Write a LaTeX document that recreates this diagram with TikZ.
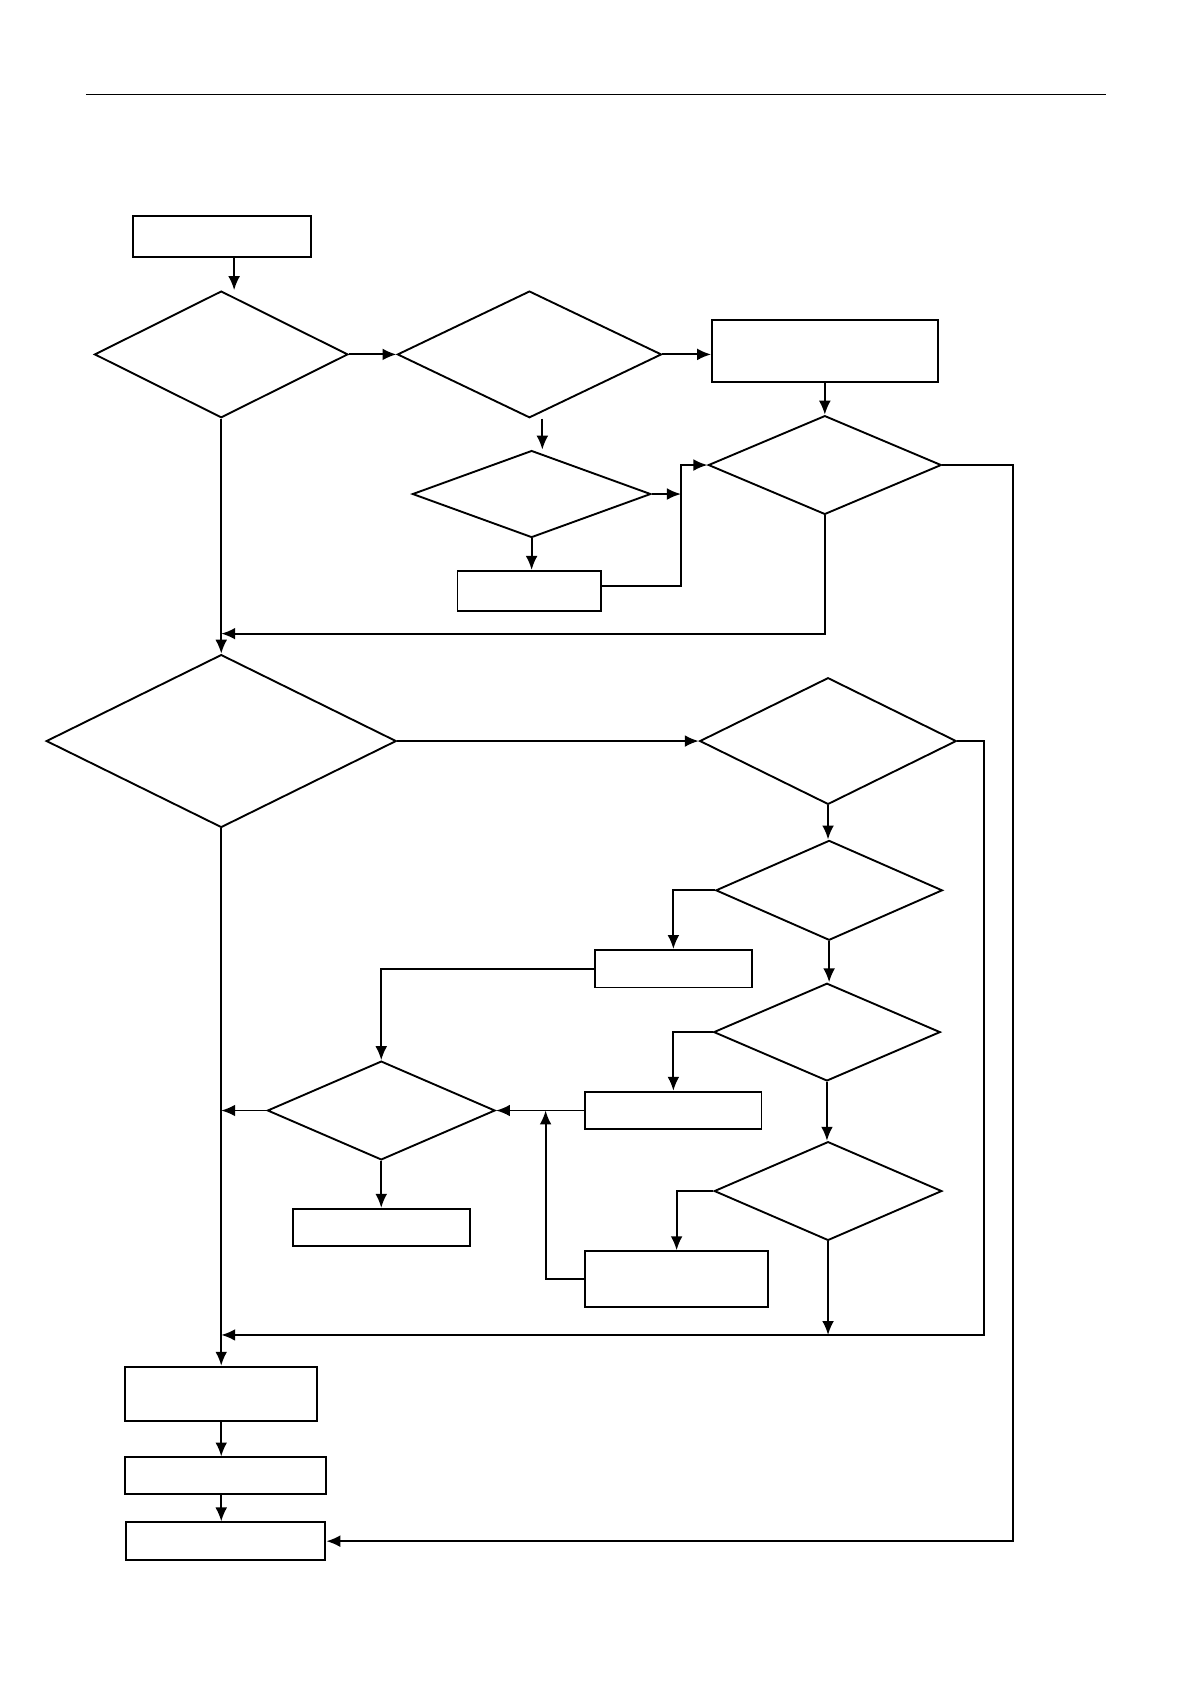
\documentclass[tikz,border=0pt]{standalone}
\usepackage{tikz}
\usetikzlibrary{arrows.meta,calc,positioning,shapes.geometric}

\begin{document}
\begin{tikzpicture}[x=0.02cm,y=-0.02cm,
    box/.style={draw,line width=1pt,inner sep=0pt},
    test/.style={draw,diamond,line width=1pt,inner sep=0pt},
    flow/.style={-{Latex[length=2.6mm,width=2.2mm]},line width=1pt},
    rule/.style={line width=0.6pt}
  ]
    \useasboundingbox (0,0) rectangle (1109,1568);
    \draw[rule] (80,88) -- (1030,88);

    % upper part
    \node[box,minimum width=3.32cm,minimum height=0.76cm] (start) at (207,220) {};
    \node[test,minimum width=4.72cm,minimum height=2.36cm] (t1) at (206,330) {};
    \node[test,minimum width=4.92cm,minimum height=2.36cm] (t2) at (493,330) {};
    \node[box,minimum width=4.2cm,minimum height=1.16cm] (b1) at (768,327) {};
    \node[test,minimum width=4.44cm,minimum height=1.62cm] (t3) at (495,460) {};
    \node[box,minimum width=2.68cm,minimum height=0.74cm] (b2) at (493,550) {};
    \node[test,minimum width=4.34cm,minimum height=1.84cm] (t4) at (768,433) {};

    % middle part
    \node[test,minimum width=6.52cm,minimum height=3.22cm] (t5) at (206,690) {};
    \node[test,minimum width=4.78cm,minimum height=2.36cm] (t6) at (771,690) {};
    \node[test,minimum width=4.22cm,minimum height=1.86cm] (t7) at (772,829) {};
    \node[box,minimum width=2.92cm,minimum height=0.70cm] (b3) at (627,902) {};
    \node[test,minimum width=4.22cm,minimum height=1.82cm] (t8) at (770,961) {};
    \node[box,minimum width=3.28cm,minimum height=0.70cm] (b4) at (627,1034) {};
    \node[test,minimum width=4.24cm,minimum height=1.84cm] (t9) at (771,1109) {};
    \node[box,minimum width=3.42cm,minimum height=1.04cm] (b5) at (630,1191) {};
    \node[test,minimum width=4.24cm,minimum height=1.84cm] (t10) at (355,1034) {};
    \node[box,minimum width=3.30cm,minimum height=0.70cm] (b6) at (355,1143) {};

    % lower part
    \node[box,minimum width=3.58cm,minimum height=1.02cm] (b7) at (206,1298) {};
    \node[box,minimum width=3.74cm,minimum height=0.68cm] (b8) at (210,1374) {};
    \node[box,minimum width=3.72cm,minimum height=0.70cm] (b9) at (210,1435) {};

    \coordinate (m1) at (634,546);
    \coordinate (m2) at (634,433);
    \coordinate (m3) at (206,590);
    \coordinate (m4) at (206,1243);
    \coordinate (m5) at (508,1034);
    \coordinate (r1) at (943,433);
    \coordinate (r2) at (916,690);

    \draw[flow] ([xshift=.22cm]start.south) -- ([xshift=.22cm]start.south |- t1.north);
    \draw[flow] (t1) -- (t2);
    \draw[flow] (t2.east) -- (t2.east -| b1.west);
    \draw[flow] (b1.south) -- (t4.north);
    \draw[flow] ([xshift=.24cm]t2.south) -- ([xshift=.24cm]t2.south |- t3.north);
    \draw[flow] (t3.east) -- (t3.east -| m1);
    \draw[flow] (t3.south) -- (t3.south |- b2.north);
    \draw[flow] (b2.east |- m1) -- (m1) -- (m2) -- (t4.west);
    \draw[flow] (t4.east) -- (r1) |- (b9.east);
    \draw[flow] (t4.south) |- (m3);
    \draw[flow] (t1.south) -- (t5.north);

    \draw[flow] (t5) -- (t6);
    \draw[flow] (t6.east) -- (r2) |- (m4);
    \draw[flow] (t6.south) -- (t6.south |- t7.north);
    \draw[flow] (t7.west) -| (b3.north);
    \draw[flow] (b3.west) -| (t10.north);
    \draw[flow] (t7.south) -- (t7.south |- t8.north);
    \draw[flow] (t8.west) -| (b4.north);
    \draw[flow] (b4.west) -- (b4.west -| t10.east);
    \draw[flow] (t8.south) -- (t8.south |- t9.north);
    \draw[flow] (t9.west) -| (b5.north);
    \draw[flow] (b5.west) -| (m5);
    \draw[flow] (t9.south) -- (t9.south |- m4);
    \draw[flow] (t10.west) -- (t10.west -| t5.south);
    \draw[flow] (t10.south) -- (b6.north);

    \draw[flow] (t5.south) -- (t5.south |- b7.north);
    \draw[flow] (b7.south) -- (b7.south |- b8.north);
    \draw[flow] (b7.south |- b8.south) -- (b7.south |- b9.north);
  \end{tikzpicture}
\end{document}
